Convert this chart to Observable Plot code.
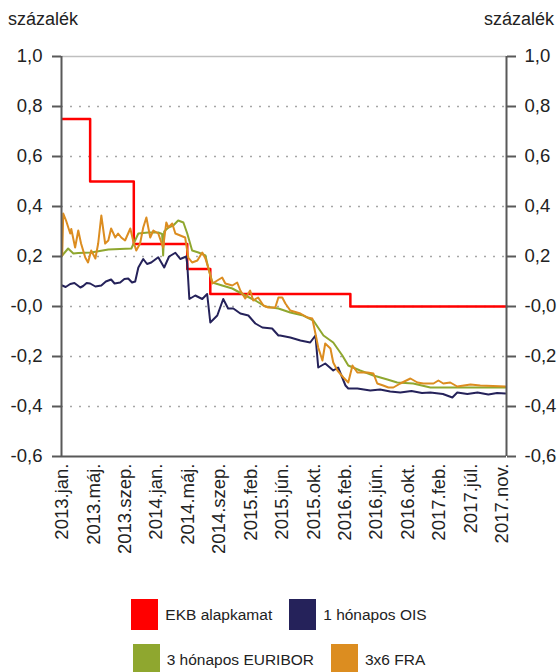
<!DOCTYPE html>
<html><head><meta charset="utf-8">
<script src="https://cdn.jsdelivr.net/npm/d3@7"></script>
<script src="https://cdn.jsdelivr.net/npm/@observablehq/plot@0.6"></script>
<style>
body{margin:0;background:#fff;font-family:"Liberation Sans",Arial,sans-serif;color:#222;}
#wrap{position:relative;width:558px;height:672px;overflow:hidden}
.unit{position:absolute;top:10px;font-size:18px;line-height:18px}
#chart{position:absolute;top:36px;left:0}
#legend{position:absolute;top:599px;left:0;width:558px;font-size:15.5px}
.row{display:flex;justify-content:center;align-items:center;height:31px;margin-bottom:14px;gap:17px}
.item{display:flex;align-items:center;gap:7px}
.sw{width:27px;height:31px}
</style></head><body>
<div id="wrap">
<div class="unit" style="left:8px">százalék</div>
<div class="unit" style="right:4px">százalék</div>
<div id="chart"></div>
<div id="legend"></div>
</div>
<script>
// x = observation index (business days from 2013 Jan); a label every 90 observations
const xTicks = [0,90,180,270,360,450,540,630,720,810,900,990,1080,1170,1260];
const xLabels = ["2013.jan.","2013.máj.","2013.szep.","2014.jan.","2014.máj.","2014.szep.","2015.feb.","2015.jún.","2015.okt.","2016.feb.","2016.jún.","2016.okt.","2017.feb.","2017.júl.","2017.nov."];
const yTicks = [-0.6,-0.4,-0.2,0,0.2,0.4,0.6,0.8,1.0];
const yLabels = ["-0,6","-0,4","-0,2","-0,0","0,2","0,4","0,6","0,8","1,0"];

const seriesNames = ["EKB alapkamat","1 hónapos OIS","3 hónapos EURIBOR","3x6 FRA"];
const seriesColors = ["#ff0000","#25225a","#8fa72f","#dc8d20"];

const ekbIdx = [0,80,205,358,424,825,1272];
const ekbVal = [0.75,0.50,0.25,0.15,0.05,0.00,0.00];

const oisIdx = [0,10,23,35,52,60,70,80,95,112,125,140,150,166,178,189,200,209,218,232,243,255,275,292,306,324,338,355,358,364,381,401,415,424,444,461,475,490,510,533,553,573,601,619,624,653,682,710,725,733,753,776,790,811,819,845,882,910,939,968,1000,1030,1054,1090,1117,1131,1160,1189,1220,1245,1269];
const oisVal = [0.084,0.078,0.09,0.094,0.076,0.082,0.094,0.092,0.08,0.084,0.10,0.108,0.092,0.096,0.11,0.112,0.096,0.10,0.156,0.19,0.17,0.176,0.197,0.156,0.20,0.215,0.19,0.20,0.17,0.03,0.044,0.03,0.05,-0.064,-0.036,0.03,-0.008,-0.008,-0.028,-0.036,-0.068,-0.084,-0.088,-0.116,-0.116,-0.124,-0.136,-0.144,-0.116,-0.244,-0.228,-0.256,-0.244,-0.316,-0.328,-0.328,-0.336,-0.332,-0.34,-0.344,-0.338,-0.346,-0.344,-0.35,-0.364,-0.344,-0.35,-0.344,-0.352,-0.346,-0.348];

const eurIdx = [0,17,32,46,83,132,198,218,246,275,286,289,292,304,318,332,347,358,372,390,410,418,430,458,487,524,553,581,619,653,690,719,748,776,802,819,853,891,931,959,1005,1054,1269];
const eurVal = [0.204,0.232,0.212,0.214,0.216,0.228,0.232,0.292,0.296,0.296,0.29,0.204,0.30,0.316,0.324,0.344,0.336,0.292,0.224,0.216,0.204,0.156,0.096,0.084,0.072,0.044,0.024,0.0,-0.008,-0.024,-0.036,-0.056,-0.116,-0.144,-0.196,-0.236,-0.256,-0.276,-0.292,-0.304,-0.308,-0.324,-0.324];

const fraIdx = [0,3,11,23,26,37,46,54,66,74,83,95,103,112,123,132,140,152,160,169,180,195,203,212,223,232,241,252,261,275,289,298,304,315,324,338,352,361,372,387,401,410,418,430,444,458,467,487,501,510,524,538,547,561,576,590,610,619,630,639,653,682,702,716,725,733,745,753,768,776,788,805,819,831,845,874,891,902,919,934,948,968,997,1017,1034,1063,1077,1091,1111,1131,1169,1197,1269];
const fraVal = [0.204,0.372,0.344,0.292,0.31,0.236,0.304,0.252,0.196,0.176,0.224,0.192,0.252,0.364,0.252,0.264,0.312,0.276,0.292,0.276,0.264,0.312,0.264,0.224,0.252,0.316,0.356,0.276,0.304,0.292,0.236,0.336,0.316,0.332,0.292,0.284,0.276,0.196,0.176,0.184,0.216,0.192,0.156,0.092,0.104,0.116,0.092,0.084,0.096,0.064,0.032,0.064,0.024,0.036,0.004,-0.004,-0.004,0.036,0.036,0.012,-0.016,-0.028,-0.044,-0.048,-0.108,-0.164,-0.216,-0.148,-0.168,-0.224,-0.256,-0.284,-0.304,-0.236,-0.264,-0.264,-0.268,-0.308,-0.316,-0.324,-0.324,-0.308,-0.288,-0.304,-0.308,-0.308,-0.296,-0.308,-0.304,-0.32,-0.312,-0.316,-0.32];

const zip = (xs, ys) => xs.map((n, i) => ({n, v: ys[i]}));
const xMin = -2, xMax = 1272;
const fmtY = d => yLabels[yTicks.indexOf(d)];
const fmtX = d => xLabels[xTicks.indexOf(d)];
const axisCommon = {ticks: yTicks, tickFormat: fmtY, tickSize: 9, stroke: "#595959", strokeWidth: 2, fill: "#222", label: null};

const plot = Plot.plot({
  width: 558, height: 524,
  marginLeft: 61, marginRight: 52, marginTop: 20, marginBottom: 104,
  style: {fontFamily: "'Liberation Sans', Arial, sans-serif", fontSize: "18.5px", color: "#222", background: "transparent", overflow: "visible"},
  x: {domain: [xMin, xMax]},
  y: {domain: [-0.6, 1.0]},
  marks: [
    Plot.ruleY(yTicks.filter(d => d > -0.6 && d < 1.0), {stroke: "#a6a6a6", strokeWidth: 1.5, strokeDasharray: "2,7"}),
    Plot.ruleY([1.0], {stroke: "#bfbfbf", strokeWidth: 1.5}),
    Plot.line(zip(ekbIdx, ekbVal), {x: "n", y: "v", stroke: seriesColors[0], strokeWidth: 2.5, curve: "step-after"}),
    Plot.line(zip(oisIdx, oisVal), {x: "n", y: "v", stroke: seriesColors[1], strokeWidth: 2}),
    Plot.line(zip(eurIdx, eurVal), {x: "n", y: "v", stroke: seriesColors[2], strokeWidth: 2}),
    Plot.line(zip(fraIdx, fraVal), {x: "n", y: "v", stroke: seriesColors[3], strokeWidth: 2}),
    Plot.ruleX([xMin, xMax], {stroke: "#595959", strokeWidth: 2}),
    Plot.ruleY([-0.6], {stroke: "#595959", strokeWidth: 2}),
    Plot.axisY({...axisCommon, anchor: "left", tickPadding: 10}),
    Plot.axisY({...axisCommon, anchor: "right", tickPadding: 9}),
    Plot.axisX({ticks: xTicks, tickFormat: fmtX, tickRotate: -90, tickSize: 0, tickPadding: 7, fill: "#222", label: null})
  ]
});
document.getElementById("chart").appendChild(plot);

const legendRows = [[0,1],[2,3]];
const legend = document.getElementById("legend");
for (const row of legendRows) {
  const r = document.createElement("div");
  r.className = "row";
  for (const i of row) {
    const it = document.createElement("div");
    it.className = "item";
    const sw = document.createElement("div");
    sw.className = "sw";
    sw.style.background = seriesColors[i];
    const t = document.createElement("span");
    t.textContent = seriesNames[i];
    it.appendChild(sw); it.appendChild(t);
    r.appendChild(it);
  }
  legend.appendChild(r);
}
</script>
</body></html>
